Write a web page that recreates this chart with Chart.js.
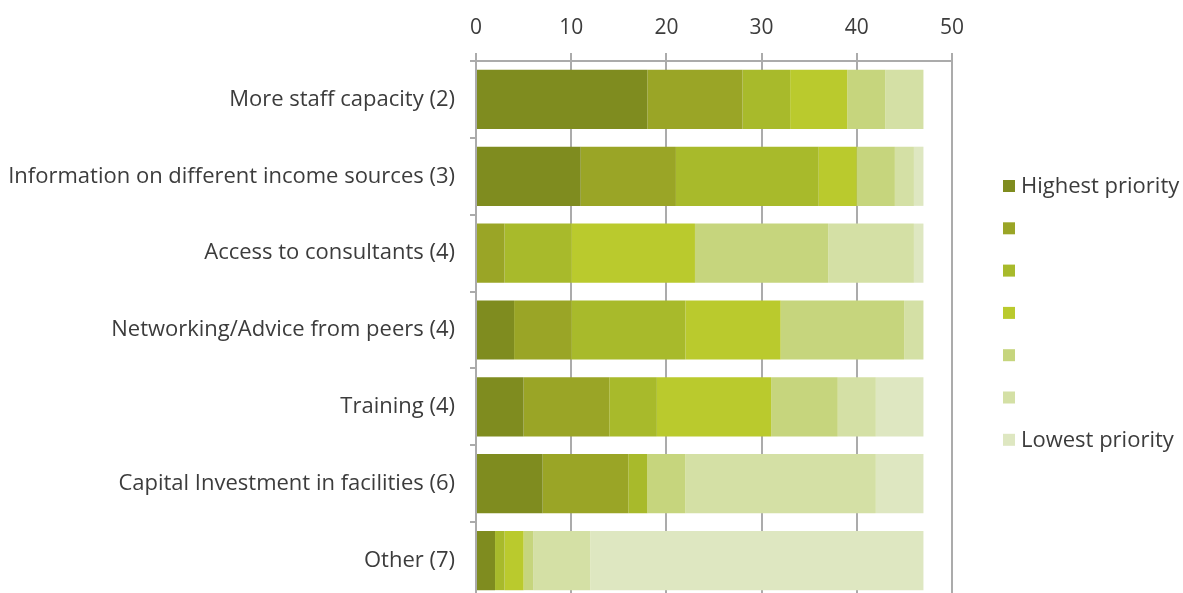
<!DOCTYPE html>
<html>
<head>
<meta charset="utf-8">
<script src="https://cdn.jsdelivr.net/npm/chart.js@4.4.1/dist/chart.umd.min.js"></script>
<style>
  html, body { margin: 0; padding: 0; background: #fff; overflow: hidden; }
</style>
</head>
<body>
<canvas id="priority-chart" width="1183" height="600"></canvas>
<script>
const categories = [
  "More staff capacity (2)",
  "Information on different income sources (3)",
  "Access to consultants (4)",
  "Networking/Advice from peers (4)",
  "Training (4)",
  "Capital Investment in facilities (6)",
  "Other (7)"
];
const seriesLabels = ["Highest priority", "", "", "", "", "", "Lowest priority"];
const priority1 = [18, 11, 0, 4, 5, 7, 2];
const priority2 = [10, 10, 3, 6, 9, 9, 0];
const priority3 = [5, 15, 7, 12, 5, 2, 1];
const priority4 = [6, 4, 13, 10, 12, 0, 2];
const priority5 = [4, 4, 14, 13, 7, 4, 1];
const priority6 = [4, 2, 9, 2, 4, 20, 6];
const priority7 = [0, 1, 1, 0, 5, 5, 35];
const xTicks = [0, 10, 20, 30, 40, 50];

const colors = ["#7f8c1f", "#9aa526", "#a8ba2b", "#baca2d", "#c6d57d", "#d4e0a5", "#dee7c1"];
const allSeries = [priority1, priority2, priority3, priority4, priority5, priority6, priority7];

const gridGray = "#ababab";
const textColor = "#3c3c3c";
const fontFamily = "'Open Sans', Lato, sans-serif";

// legend drawn at the right, like the original
const sideLegend = {
  id: "sideLegend",
  afterDraw(chart) {
    const c = chart.ctx;
    c.save();
    c.font = "22px " + fontFamily;
    c.textBaseline = "middle";
    chart.data.datasets.forEach(function(ds, i) {
      const y = 186 + i * 42.3;
      c.fillStyle = ds.backgroundColor;
      c.fillRect(1003, y - 6, 12, 12);
      c.fillStyle = textColor;
      c.fillText(ds.label, 1021, y + 1);
    });
    c.restore();
  }
};

const ctx = document.getElementById("priority-chart").getContext("2d");
new Chart(ctx, {
  type: "bar",
  data: {
    labels: categories,
    datasets: allSeries.map(function(values, i) {
      return {
        label: seriesLabels[i],
        data: values,
        backgroundColor: colors[i],
        borderWidth: 0,
        barPercentage: 0.77,
        categoryPercentage: 1
      };
    })
  },
  options: {
    indexAxis: "y",
    responsive: false,
    devicePixelRatio: 1,
    animation: false,
    layout: { padding: { left: 0, right: 231, top: 0, bottom: 1 } },
    plugins: {
      legend: { display: false },
      tooltip: { enabled: false }
    },
    scales: {
      x: {
        position: "top",
        stacked: true,
        min: 0,
        max: 50,
        afterBuildTicks: function(scale) {
          scale.ticks = xTicks.map(function(v) { return { value: v }; });
        },
        afterFit: function(scale) { scale.height = 61; },
        grid: { color: gridGray, lineWidth: 2, tickLength: 8 },
        border: { display: true, color: gridGray, width: 2 },
        ticks: { color: textColor, font: { family: fontFamily, size: 21 }, padding: 12 }
      },
      y: {
        stacked: true,
        afterFit: function(scale) {
          scale.width = 476;
          scale.paddingTop = 0;
          scale.paddingBottom = 0;
        },
        grid: { drawOnChartArea: false, color: gridGray, lineWidth: 2, tickLength: 6 },
        border: { display: true, color: gridGray, width: 2 },
        ticks: { color: textColor, font: { family: fontFamily, size: 22 }, padding: 15 }
      }
    }
  },
  plugins: [sideLegend]
});
</script>
</body>
</html>
